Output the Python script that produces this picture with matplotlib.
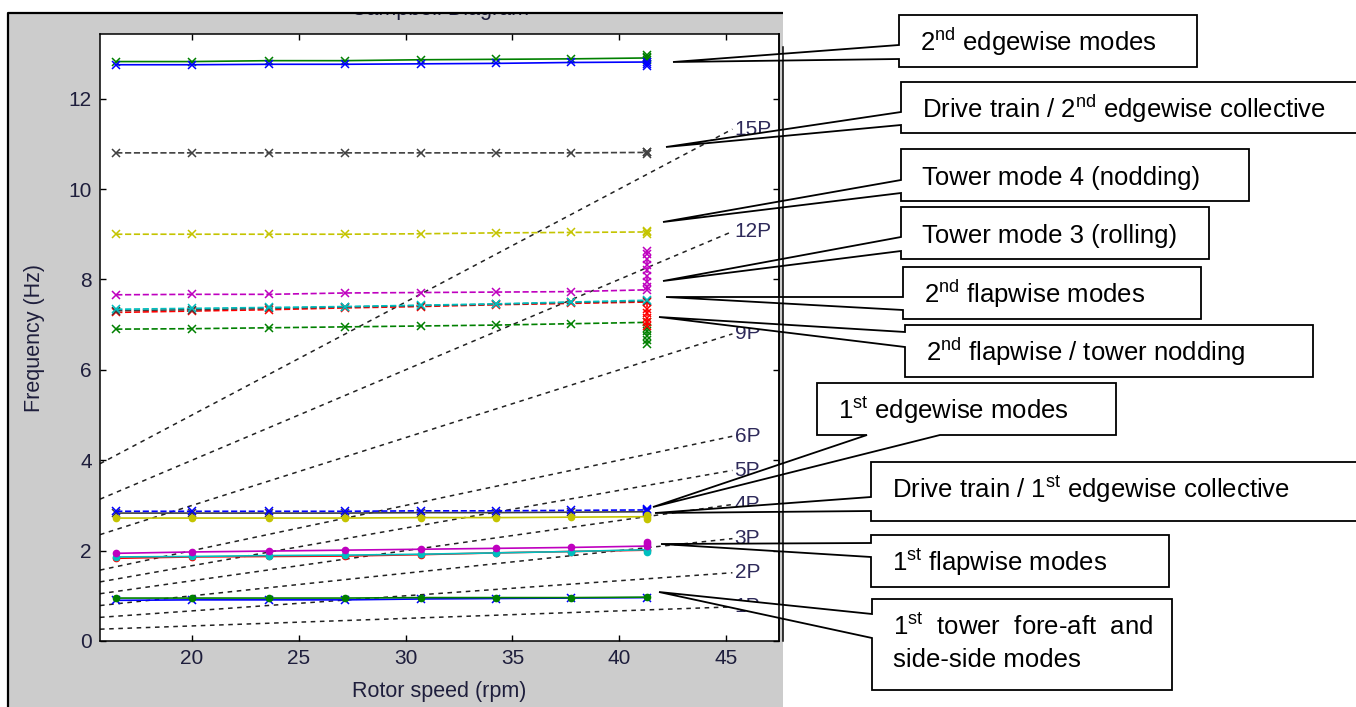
import matplotlib
matplotlib.use("Agg")
import matplotlib.pyplot as plt
from matplotlib.patches import Polygon, Rectangle
import numpy as np

plt.rcParams['font.family'] = ['Liberation Sans', 'DejaVu Sans']
plt.rcParams['mathtext.fontset'] = 'custom'
plt.rcParams['mathtext.rm'] = 'Liberation Sans'
plt.rcParams['mathtext.it'] = 'Liberation Sans:italic'
plt.rcParams['mathtext.bf'] = 'Liberation Sans:bold'

W, H = 1356, 707

# rotor speed of the operating points (rpm); above rated the speed stays at 41.3
rpm = [16.45, 20.0, 23.6, 27.15, 30.7, 34.25, 37.75, 41.3]
rated_rpm = 41.3

# mode frequencies (Hz) along rpm, "_rated" = extra points at rated rotor speed
edge2_g = [12.82, 12.82, 12.84, 12.84, 12.86, 12.87, 12.88, 12.90]
edge2_g_rated = [12.86, 12.93, 12.96]
edge2_b = [12.75, 12.75, 12.76, 12.76, 12.77, 12.78, 12.80, 12.81]
edge2_b_rated = [12.73, 12.77]
drive2 = [10.80, 10.80, 10.80, 10.80, 10.80, 10.80, 10.80, 10.81]
drive2_rated = [10.78, 10.83]
tower4 = [9.00, 9.00, 9.00, 9.00, 9.01, 9.03, 9.04, 9.05]
tower4_rated = [9.00, 9.08]
flap2_m = [7.66, 7.67, 7.67, 7.70, 7.71, 7.72, 7.73, 7.77]
flap2_m_rated = [7.83, 7.95, 8.08, 8.20, 8.32, 8.45, 8.56, 8.62]
flap2_c = [7.34, 7.36, 7.38, 7.40, 7.43, 7.46, 7.50, 7.54]
flap2_k = [7.31, 7.33, 7.36, 7.39, 7.42, 7.45, 7.49, 7.52]
flap2_r = [7.27, 7.30, 7.33, 7.37, 7.40, 7.44, 7.47, 7.50]
flap2_r_rated = [7.35, 7.25, 7.15, 7.05, 6.98]
flap2_g = [6.90, 6.91, 6.93, 6.95, 6.97, 6.99, 7.02, 7.05]
flap2_g_rated = [6.93, 6.85, 6.75, 6.65, 6.58]
drive1 = [2.83, 2.83, 2.83, 2.83, 2.84, 2.84, 2.85, 2.86]
edge1_b = [2.87, 2.87, 2.87, 2.87, 2.88, 2.88, 2.89, 2.90]
edge1_b_rated = [2.87, 2.93]
edge1_y = [2.72, 2.72, 2.72, 2.72, 2.73, 2.73, 2.74, 2.75]
edge1_y_rated = [2.70, 2.78]
flap1_r = [1.83, 1.86, 1.87, 1.88, 1.91, 1.95, 1.98, 2.01]
flap1_c = [1.86, 1.87, 1.89, 1.90, 1.92, 1.95, 1.98, 2.02]
flap1_c_rated = [1.98]
flap1_m = [1.94, 1.97, 1.99, 2.01, 2.03, 2.05, 2.07, 2.10]
flap1_m_rated = [2.14, 2.19]
tower1_b = [0.90, 0.91, 0.91, 0.91, 0.93, 0.94, 0.95, 0.96]
tower1_g = [0.95, 0.95, 0.95, 0.95, 0.96, 0.96, 0.96, 0.97]

# rotor harmonics
orders = [1, 2, 3, 4, 5, 6, 9, 12, 15]
order_labels = ['1P', '2P', '3P', '4P', '5P', '6P', '9P', '12P', '15P']
harm_rpm = [15.69, 45.3]

G, B, K, Y = '#008000', '#0000ff', '#404040', '#c4c400'
M, C, R = '#bf00bf', '#00bfbf', '#ff0000'

# (values, rated values, colour, linestyle, marker)
series = [
    (edge2_g, edge2_g_rated, G, '-', 'x'),
    (edge2_b, edge2_b_rated, B, '-', 'x'),
    (drive2, drive2_rated, K, '--', 'x'),
    (tower4, tower4_rated, Y, '--', 'x'),
    (flap2_g, flap2_g_rated, G, '--', 'x'),
    (flap2_r, flap2_r_rated, R, '--', 'x'),
    (flap2_k, [], K, '--', 'x'),
    (flap2_c, [], C, '--', 'x'),
    (flap2_m, flap2_m_rated, M, '--', 'x'),
    (drive1, [], K, '-', 'x'),
    (edge1_b, edge1_b_rated, B, '--', 'x'),
    (edge1_y, edge1_y_rated, Y, '-', 'o'),
    (flap1_r, [], R, '-', 'o'),
    (flap1_c, flap1_c_rated, C, '-', 'o'),
    (flap1_m, flap1_m_rated, M, '-', 'o'),
    (tower1_b, [], B, '-', 'x'),
    (tower1_g, [], G, '-', 'o'),
]

# callout boxes in screen pixels: text lines, box (l, t, r, b), side, wedge base, tip
callouts = [
    (['2$^{\\mathrm{nd}}$ edgewise modes'], (899, 15, 1197, 67), 'left', (45, 59), (673, 62)),
    (['Drive train / 2$^{\\mathrm{nd}}$ edgewise collective'], (901, 82, 1365, 133), 'left', (112, 125), (666, 147)),
    (['Tower mode 4 (nodding)'], (901, 149, 1249, 201), 'left', (180, 193), (663, 222)),
    (['Tower mode 3 (rolling)'], (901, 207, 1209, 259), 'left', (237, 251), (663, 281)),
    (['2$^{\\mathrm{nd}}$ flapwise modes'], (903, 267, 1201, 319), 'left', (297, 310), (666, 297)),
    (['2$^{\\mathrm{nd}}$ flapwise / tower nodding'], (905, 325, 1313, 377), 'left', (332, 347), (659, 317)),
    (['1$^{\\mathrm{st}}$ edgewise modes'], (817, 383, 1116, 435), 'bottom', (867, 940), (653, 507)),
    (['Drive train / 1$^{\\mathrm{st}}$ edgewise collective'], (871, 462, 1365, 521), 'left', (497, 511), (655, 513)),
    (['1$^{\\mathrm{st}}$ flapwise modes'], (871, 535, 1169, 587), 'left', (543, 557), (661, 544)),
    (['1$^{\\mathrm{st}}$  tower  fore-aft  and', 'side-side modes'], (872, 599, 1172, 690), 'left', (614, 638), (659, 592)),
]

fig = plt.figure(figsize=(W / 100, H / 100), dpi=100, facecolor='white')

# grey figure window behind the axes, with its border and clipped title
under = fig.add_axes([0, 0, 1, 1], zorder=-1)
under.set_xlim(0, W)
under.set_ylim(H, 0)
under.axis('off')
under.add_patch(Rectangle((8, 13), 775, H - 13, facecolor='#cccccc', edgecolor='none', zorder=1))
under.text(440, 15, 'Campbell Diagram', ha='center', va='baseline', fontsize=15.5,
           color='#1e1e3c', zorder=2)
under.add_patch(Rectangle((0, 0), W, 13, facecolor='white', edgecolor='none', zorder=3))
under.plot([8, 8, 783], [H, 13, 13], color='black', lw=1.6, zorder=4, solid_capstyle='butt')

ax = fig.add_axes([100 / W, 1 - 641 / H, 679 / W, 607 / H], zorder=0)
ax.set_facecolor('white')

for n, lab in zip(orders, order_labels):
    xs = np.array(harm_rpm)
    ax.plot(xs, n * xs / 60.0, color='#222222', lw=1.1, ls=(0, (3, 3)), zorder=1)
    ax.text(45.4, n * harm_rpm[1] / 60.0, lab, ha='left', va='center', fontsize=15,
            color='#2e2a5a', zorder=2, clip_on=False)

for vals, rated, col, ls, mk in series:
    xs = rpm + [rated_rpm] * len(rated)
    ys = vals + rated
    if mk == 'o':
        ax.plot(xs, ys, color=col, ls=ls, lw=1.2, marker='o', ms=4.5, mfc=col, mec=col, zorder=3)
    else:
        ax.plot(xs, ys, color=col, ls=ls, lw=1.2, marker='x', ms=5.5, mew=1.1, zorder=3)

ax.set_xlim(15.69, 47.48)
ax.set_ylim(0, 13.43)
ax.set_xticks([20, 25, 30, 35, 40, 45])
ax.set_yticks([0, 2, 4, 6, 8, 10, 12])
ax.tick_params(direction='in', top=True, right=True, length=4.5, width=1.0,
               labelsize=15, labelcolor='#1e1e3c', pad=6)
for sp in ax.spines.values():
    sp.set_linewidth(1.1)
ax.set_xlabel('Rotor speed (rpm)', fontsize=15.5, color='#1e1e3c')
ax.xaxis.set_label_coords(0.5, -(681 - 641) / 607)
ax.set_ylabel('Frequency (Hz)', fontsize=15.5, color='#1e1e3c', va='center')
ax.yaxis.set_label_coords((35 - 100) / 679, 0.5)

# callouts drawn over everything
ov = fig.add_axes([0, 0, 1, 1], zorder=5)
ov.set_xlim(0, W)
ov.set_ylim(H, 0)
ov.axis('off')

for lines, (l, t, r, b), side, base, tip in callouts:
    if side == 'left':
        pts = [(l, t), (r, t), (r, b), (l, b), (l, base[1]), tip, (l, base[0])]
    else:
        pts = [(l, t), (r, t), (r, b), (base[1], b), tip, (base[0], b), (l, b)]
    ov.add_patch(Polygon(pts, closed=True, facecolor='white', edgecolor='black',
                         lw=1.3, joinstyle='miter', zorder=2))
    for i, txt in enumerate(lines):
        ov.text(l + 21, t + 36 + 32 * i, txt, ha='left', va='baseline', fontsize=18.5,
                color='black', zorder=3)

# double right edge of the window frame
ov.plot([779, 779], [34, 641], color='black', lw=1.1, zorder=4)
ov.plot([783, 783], [47, 641], color='black', lw=1.1, zorder=4)

fig.savefig('out.png', dpi=100, facecolor='white')
